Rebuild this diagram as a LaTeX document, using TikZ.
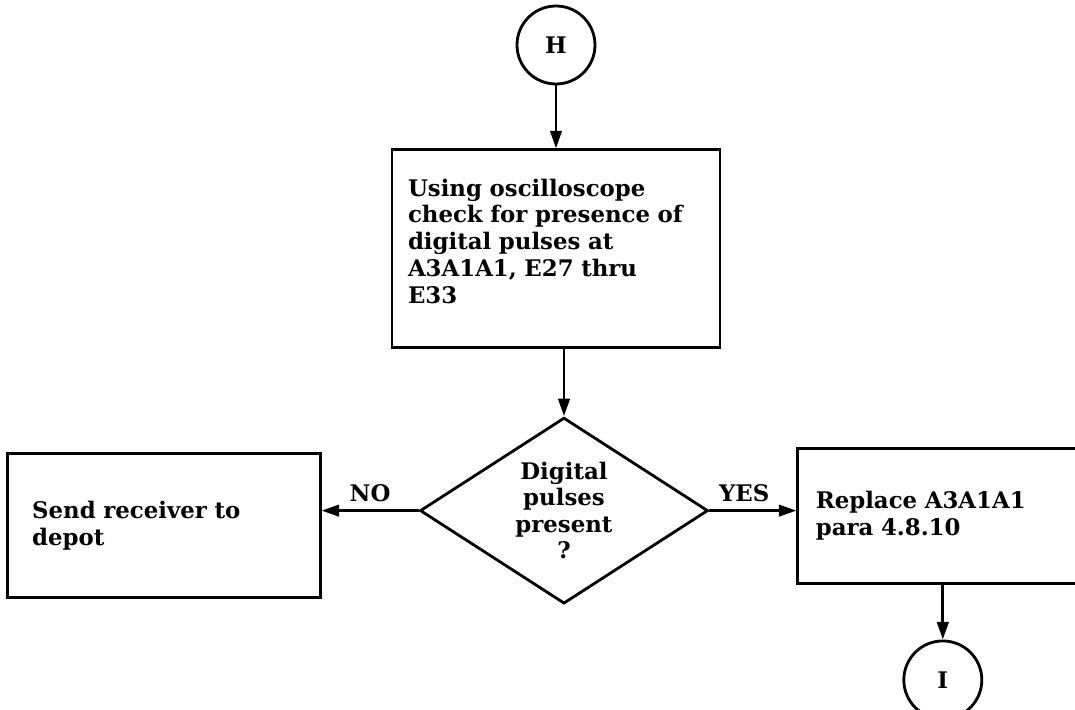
\documentclass[tikz,border=0pt]{standalone}
\usepackage{fontspec}
\setmainfont{DejaVu Serif}
\usetikzlibrary{shapes,arrows,positioning,calc,arrows.meta}

\begin{document}
\begin{tikzpicture}[
        box/.style={rectangle, draw=black, line width=1.6pt, font=\bfseries\fontsize{13}{15.3}\selectfont, align=left},
        decision/.style={diamond, draw=black, line width=1.6pt, aspect=1.55, minimum width=5.76cm, minimum height=3.72cm, inner sep=1pt, font=\bfseries\fontsize{13}{15}\selectfont, align=center},
        connector/.style={circle, draw=black, line width=1.6pt, minimum size=1.56cm, inner sep=0pt, font=\bfseries\fontsize{13}{15}\selectfont},
        arrow/.style={-{Triangle[length=10pt,width=6.5pt]}, line width=1.6pt},
        answer/.style={font=\bfseries\fontsize{13}{15}\selectfont, inner sep=4pt},
      ]
      \useasboundingbox (0,0) rectangle (21.5,-14.2);
      \clip (0,0) rectangle (21.5,-14.2);
      % Entry connector and check
      \node [connector] (H) at (11.12,-0.9) {H};
      \node [box, below=1.26cm of H, text width=5.92cm, inner xsep=0.32cm, minimum height=3.96cm] (scope) {Using oscilloscope\\check for presence of\\digital pulses at\\A3A1A1, E27 thru\\E33\vspace{0.3cm}};
      \node [decision, below=1.34cm of scope, xshift=0.16cm] (pulses) {Digital\\pulses\\present\\?};
      % Outcomes
      \node [box, left=1.94cm of pulses, yshift=-0.3cm, text width=5.26cm, inner xsep=0.5cm, minimum height=2.88cm] (depot) {Send receiver to\\depot};
      \node [box, right=1.74cm of pulses, yshift=-0.1cm, text width=5.08cm, inner xsep=0.36cm, minimum height=2.7cm] (replace) {Replace A3A1A1\\para 4.8.10};
      \node [connector, below=1.1cm of replace] (I) {I};
      \draw [arrow] (H) -- (scope);
      \draw [arrow] (pulses.north |- scope.south) -- (pulses);
      \draw [arrow] (pulses.west) -- node [answer, above] {NO} (pulses.west -| depot.east);
      \draw [arrow] (pulses.east) -- node [answer, above, pos=0.4] {YES} (pulses.east -| replace.west);
      \draw [arrow] (replace) -- (I);
    \end{tikzpicture}
\end{document}
